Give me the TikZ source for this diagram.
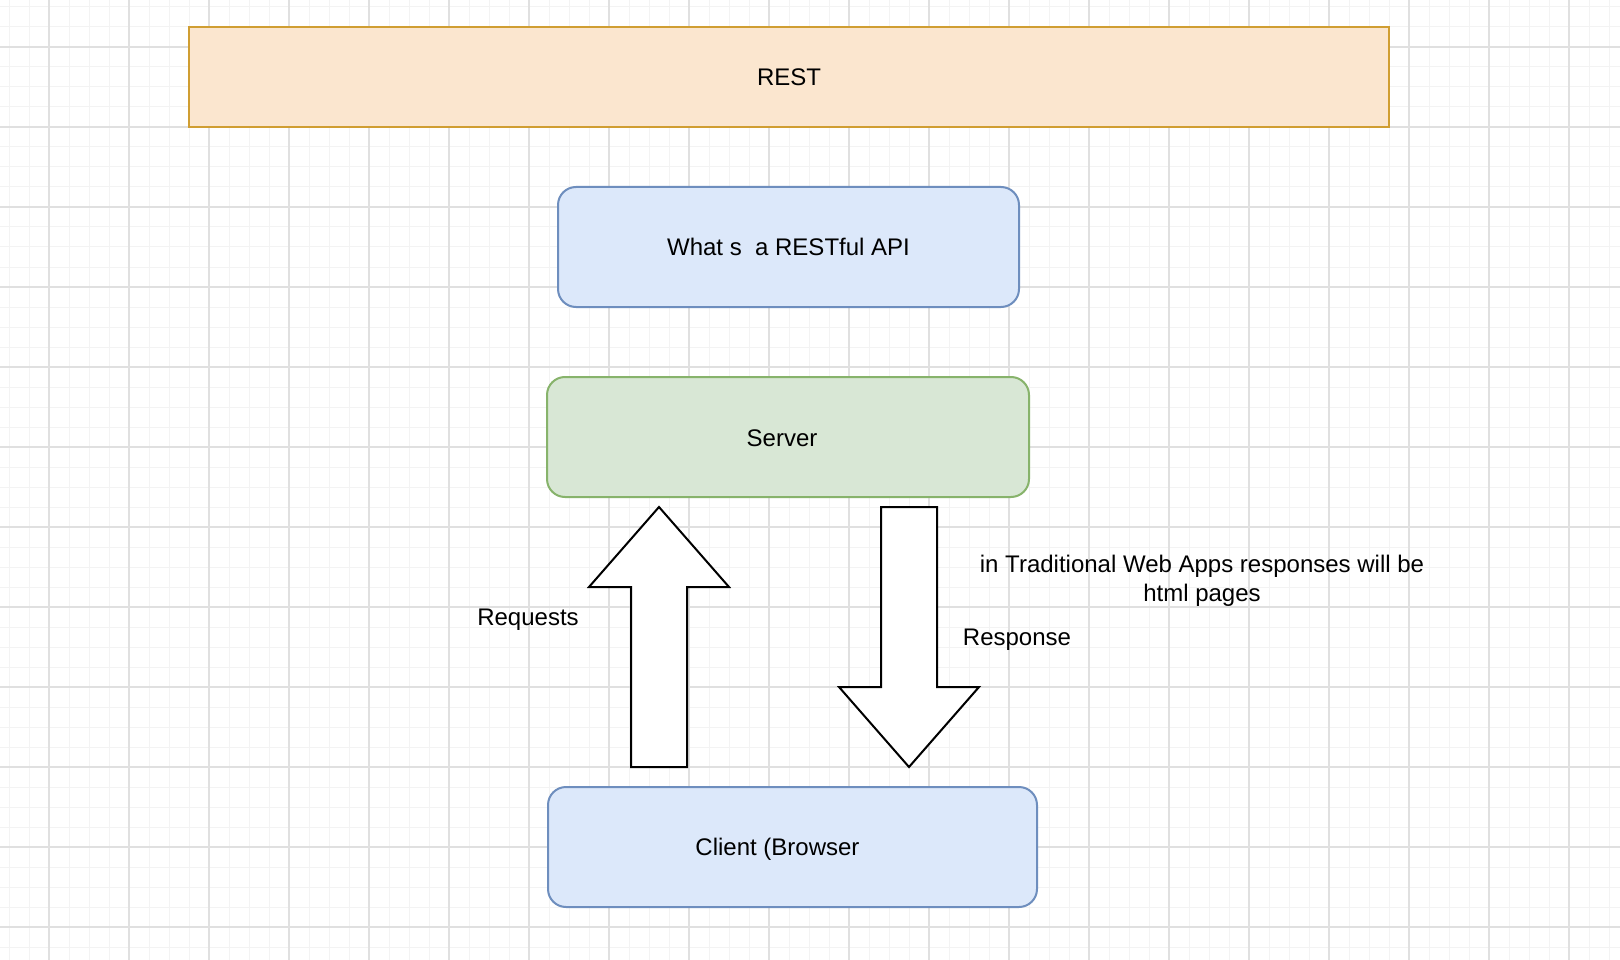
\documentclass[tikz,border=0pt]{standalone}
\usepackage{fontspec}
\setmainfont{Liberation Sans}
\usetikzlibrary{positioning}
\definecolor{restfill}{RGB}{251,230,207}
\definecolor{restline}{RGB}{208,158,50}
\definecolor{bluefill}{RGB}{220,232,250}
\definecolor{blueline}{RGB}{110,142,190}
\definecolor{greenfill}{RGB}{216,231,213}
\definecolor{greenline}{RGB}{135,179,107}
\definecolor{gridminor}{RGB}{243,243,243}
\definecolor{gridmajor}{RGB}{224,224,224}

\begin{document}
\begin{tikzpicture}[
        x=1pt, y=-1pt,
        font=\fontsize{24}{29}\selectfont,
        minorgrid/.style={gridminor, line width=1pt},
        majorgrid/.style={gridmajor, line width=1.5pt},
        titlebox/.style={rectangle, draw=restline, fill=restfill, line width=2pt, minimum width=1200pt, minimum height=100pt},
        box/.style={rectangle, rounded corners=18pt, line width=2pt, minimum height=120pt},
        bluebox/.style={box, draw=blueline, fill=bluefill},
        greenbox/.style={box, draw=greenline, fill=greenfill},
        blockarrow/.style={draw=black, fill=white, line width=2pt, line join=miter}
    ]
        \useasboundingbox (0,0) rectangle (1620,960);
        \fill[white] (0,0) rectangle (1620,960);

        % background grid
        \foreach \x in {9,29,...,1609} \draw[minorgrid] (\x,0) -- (\x,960);
        \foreach \y in {7,27,...,947} \draw[minorgrid] (0,\y) -- (1620,\y);
        \foreach \x in {49,129,...,1569} \draw[majorgrid] (\x,0) -- (\x,960);
        \foreach \y in {47,127,...,927} \draw[majorgrid] (0,\y) -- (1620,\y);

        \node[titlebox] (rest) at (789,77) {REST};
        \node[bluebox, minimum width=461pt] (api) at (788.5,247) {What s\ \ a RESTful API};
        \node[greenbox, minimum width=482pt, label={[xshift=-6pt, yshift=-1pt]center:Server}] (server) at (788,437) {};
        \node[bluebox, minimum width=489pt, label={[xshift=-15pt, yshift=-2pt]center:Client (Browser}] (client) at (792.5,847) {};

        % block arrows
        \draw[blockarrow] (631,767) -- (631,587) -- (589,587) -- (659,507) -- (729,587) -- (687,587) -- (687,767) -- cycle;
        \draw[blockarrow] (881,507) -- (881,687) -- (839,687) -- (909,767) -- (979,687) -- (937,687) -- (937,507) -- cycle;

        \node (requests) at (528,620) {Requests};
        \node (response) at (1017,640) {Response};
        \node[align=center] (note) at (1202,581) {in Traditional Web Apps responses will be\\html pages};
    \end{tikzpicture}
\end{document}
